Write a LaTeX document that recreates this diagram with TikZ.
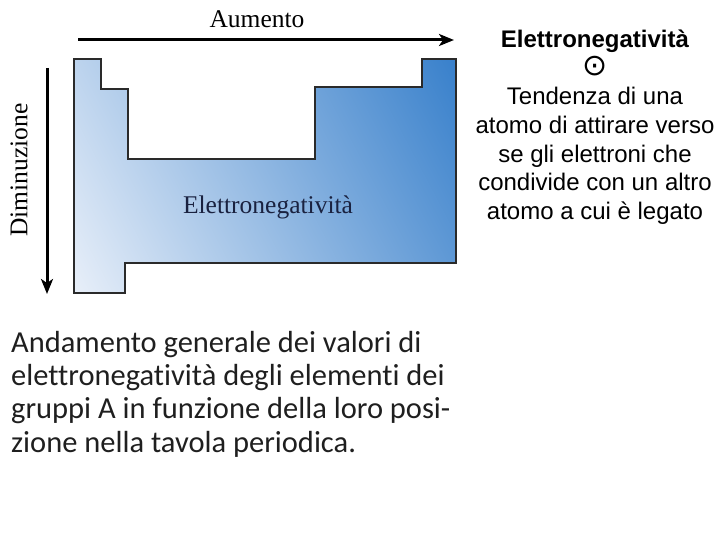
\documentclass[tikz,border=0pt]{standalone}
\usepackage{fontspec}
\setmainfont{Liberation Serif}
\newfontfamily\arialfont{Liberation Sans}
\newfontfamily\symfont{DejaVu Sans}
\newfontfamily\capfont[Ligatures={NoCommon}]{Carlito}
\usetikzlibrary{arrows.meta}
\definecolor{shlight}{HTML}{E8EFF9}
\definecolor{shdark}{HTML}{3880CB}
\definecolor{outlinec}{HTML}{2A2A2A}
\definecolor{labelc}{HTML}{1A2240}
\tikzset{
  bigarrow/.style={line width=3pt, -{Stealth[length=15pt,width=12pt,inset=4pt]}},
  serifl/.style={font=\fontsize{25.5}{30}\selectfont, inner sep=0pt},
}
\def\tableshape{(74,59) -- (101,59) -- (101,89) -- (128,89) -- (128,159) -- (315,159) -- (315,87)
  -- (422,87) -- (422,59) -- (456,59) -- (456,263) -- (125,263) -- (125,293)
  -- (74,293) -- cycle}
\begin{document}
\begin{tikzpicture}[x=1pt,y=-1pt]
\useasboundingbox (0,0) rectangle (720,540);
% periodic-table shape with diagonal gradient
\begin{scope}
  \clip \tableshape;
  \begin{scope}[transform canvas={shift={(-22.8,110.2)}, rotate=27.9}]
    \shade[left color=shlight, right color=shdark] (0,-400) rectangle (447.2,400);
  \end{scope}
\end{scope}
\draw[outlinec, line width=1.5pt, line join=miter] \tableshape;
\node[serifl, text=labelc] (en) at (268,207) {Elettronegatività};
% arrows
\coordinate (hs) at (78,40);
\coordinate (he) at (454,40);
\draw[bigarrow] (hs) -- (he);
\node[serifl] (aum) at (257,19) {Aumento};
\coordinate (vs) at (47,68);
\coordinate (ve) at (47,294);
\draw[bigarrow] (vs) -- (ve);
\node[serifl, rotate=90] (dim) at (19,170) {Diminuzione};
% right text
\node[align=center, inner sep=0pt, font=\arialfont\fontsize{24}{28.7}\selectfont] (def) at (595,127)
  {\textbf{Elettronegatività}\\ {\symfont\fontsize{30}{28.7}\selectfont ⊙}\\ Tendenza di una\\ atomo di attirare verso\\
   se gli elettroni che\\ condivide con un altro\\ atomo a cui è legato};
% caption
\node[align=left, anchor=west, inner sep=0pt, font=\capfont\fontsize{30.5}{33.3}\selectfont, text=black!88] (cap) at (11,394)
  {Andamento generale dei valori di\\ elettronegatività degli elementi dei\\
   gruppi A in funzione della loro posi-\\ zione nella tavola periodica.};
\end{tikzpicture}
\end{document}
